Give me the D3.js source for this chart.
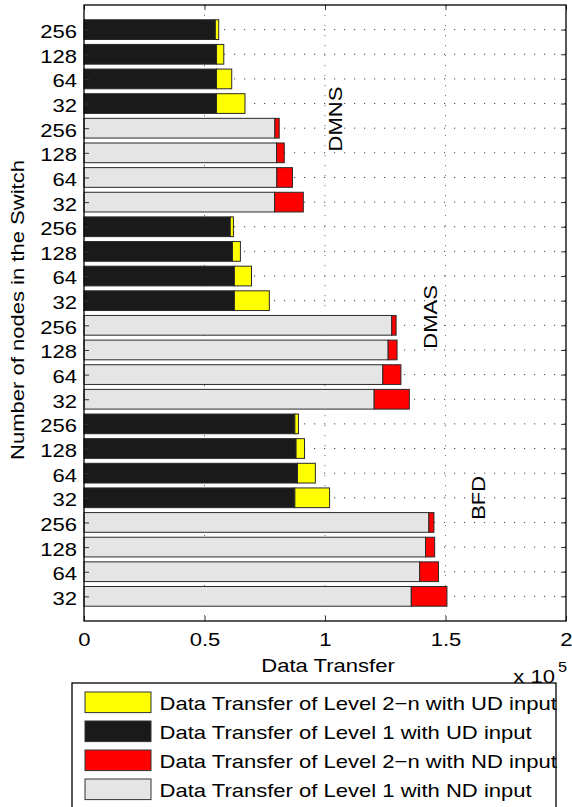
<!DOCTYPE html>
<html>
<head>
    <meta charset="utf-8" />
    <script src="https://d3js.org/d3.v7.min.js"></script>
    <style>
        body { margin: 0; background: #fff; }
        svg { display: block; font-family: "Liberation Sans", Arial, sans-serif; }
    </style>
</head>
<body>
    <div id="chart"></div>
    <script>
        // data (bars listed top to bottom, 256/128/64/32 nodes in each block)
        const nodeLabels = ["256", "128", "64", "32"];
        const methods = ["DMNS", "DMAS", "BFD"];

        const dmnsUdL1 = [54500, 55000, 55000, 55000];
        const dmnsUdL2 = [1400, 3000, 6300, 11800];
        const dmnsNdL1 = [79200, 79900, 80000, 79100];
        const dmnsNdL2 = [1800, 3200, 6500, 11900];

        const dmasUdL1 = [60700, 61600, 62400, 62400];
        const dmasUdL2 = [1300, 3300, 7100, 14500];
        const dmasNdL1 = [127700, 126200, 124000, 120400];
        const dmasNdL2 = [1800, 3700, 7500, 14600];

        const bfdUdL1 = [87500, 88000, 88600, 87500];
        const bfdUdL2 = [1500, 3500, 7400, 14400];
        const bfdNdL1 = [143100, 141700, 139300, 135800];
        const bfdNdL2 = [2100, 3800, 7800, 14800];

        const xTicks = [0, 50000, 100000, 150000, 200000];

        // method annotation positions (data units)
        const methodLabelX = [107000, 146500, 166400];
        const methodLabelY = [4.63, 12.66, 20.0];

        const legendLabels = [
            "Data Transfer of Level 2\u2212n with UD input",
            "Data Transfer of Level 1 with UD input",
            "Data Transfer of Level 2\u2212n with ND input",
            "Data Transfer of Level 1 with ND input"
        ];

        const colUdL1 = "#1a1a1a", colUdL2 = "#ffff00";
        const colNdL1 = "#e5e5e5", colNdL2 = "#ff0000";
        const legendColors = [colUdL2, colUdL1, colNdL2, colNdL1];

        // build rows
        const blocks = [
            [dmnsUdL1, dmnsUdL2, colUdL1, colUdL2],
            [dmnsNdL1, dmnsNdL2, colNdL1, colNdL2],
            [dmasUdL1, dmasUdL2, colUdL1, colUdL2],
            [dmasNdL1, dmasNdL2, colNdL1, colNdL2],
            [bfdUdL1, bfdUdL2, colUdL1, colUdL2],
            [bfdNdL1, bfdNdL2, colNdL1, colNdL2]
        ];
        const rows = [];
        blocks.forEach(b => {
            nodeLabels.forEach((lab, i) => {
                rows.push({ pos: rows.length + 1, label: lab, l1: b[0][i], l2: b[1][i], c1: b[2], c2: b[3] });
            });
        });

        const W = 572, H = 807;
        const pLeft = 84, pRight = 566, pTop = 5, pBottom = 621;
        const fs = 19, sx = 1.16;

        const svg = d3.select("#chart").append("svg")
            .attr("width", W).attr("height", H);

        const x = d3.scaleLinear().domain([0, 200000]).range([pLeft, pRight]);
        const y = d3.scaleLinear().domain([0, 25]).range([pTop, pBottom]);
        const barH = y(0.8) - y(0);

        // grid
        const grid = svg.append("g");
        grid.selectAll(".hg").data(rows).enter().append("line")
            .attr("x1", pLeft).attr("x2", pRight)
            .attr("y1", d => y(d.pos)).attr("y2", d => y(d.pos))
            .attr("stroke", "#444").attr("stroke-width", 1)
            .attr("stroke-dasharray", "1.2,8.8");
        grid.selectAll(".vg").data(xTicks.slice(1, -1)).enter().append("line")
            .attr("x1", d => x(d)).attr("x2", d => x(d))
            .attr("y1", pTop).attr("y2", pBottom)
            .attr("stroke", "#777").attr("stroke-width", 1)
            .attr("stroke-dasharray", "1.2,8.8");

        // bars
        const bars = svg.append("g");
        bars.selectAll(".b1").data(rows).enter().append("rect")
            .attr("x", x(0))
            .attr("y", d => y(d.pos) - barH / 2)
            .attr("width", d => x(d.l1) - x(0))
            .attr("height", barH)
            .attr("fill", d => d.c1)
            .attr("stroke", "#2a2a2a").attr("stroke-width", 1);
        bars.selectAll(".b2").data(rows).enter().append("rect")
            .attr("x", d => x(d.l1))
            .attr("y", d => y(d.pos) - barH / 2)
            .attr("width", d => x(d.l1 + d.l2) - x(d.l1))
            .attr("height", barH)
            .attr("fill", d => d.c2)
            .attr("stroke", "#2a2a2a").attr("stroke-width", 1);

        // axes (inward ticks)
        const xAxisB = svg.append("g")
            .attr("transform", `translate(0, ${pBottom})`)
            .call(d3.axisBottom(x).tickValues(xTicks).tickSize(-5).tickFormat(d => d / 100000));
        const xAxisT = svg.append("g")
            .attr("transform", `translate(0, ${pTop})`)
            .call(d3.axisTop(x).tickValues(xTicks).tickSize(-5).tickFormat(""));
        const yAxisL = svg.append("g")
            .attr("transform", `translate(${pLeft}, 0)`)
            .call(d3.axisLeft(y).tickValues(rows.map(d => d.pos)).tickSize(-5)
                .tickFormat(p => rows[p - 1].label));
        const yAxisR = svg.append("g")
            .attr("transform", `translate(${pRight}, 0)`)
            .call(d3.axisRight(y).tickValues(rows.map(d => d.pos)).tickSize(-5).tickFormat(""));

        [xAxisB, xAxisT, yAxisL, yAxisR].forEach(a => {
            a.select(".domain").remove();
            a.selectAll(".tick line").attr("stroke", "#333");
        });

        xAxisB.selectAll("text")
            .attr("y", 0).attr("dy", 0)
            .attr("transform", `translate(0, 25) scale(${sx}, 1)`)
            .attr("font-size", fs).attr("fill", "#000")
            .style("font-family", "Liberation Sans, Arial, sans-serif");
        yAxisL.selectAll("text")
            .attr("x", 0).attr("dy", 0)
            .attr("dominant-baseline", "central")
            .attr("transform", `translate(-7, 1) scale(${sx}, 1)`)
            .attr("font-size", fs).attr("fill", "#000")
            .style("font-family", "Liberation Sans, Arial, sans-serif");

        // frame
        svg.append("rect")
            .attr("x", pLeft).attr("y", pTop)
            .attr("width", pRight - pLeft).attr("height", pBottom - pTop)
            .attr("fill", "none").attr("stroke", "#000").attr("stroke-width", 1.3);

        // helper for stretched text
        function label(px, py, rot, txt, size, anchor) {
            return svg.append("text")
                .attr("transform", `translate(${px}, ${py}) rotate(${rot}) scale(${sx}, 1)`)
                .attr("text-anchor", anchor || "middle")
                .attr("font-size", size || fs)
                .text(txt);
        }

        // method annotations
        methods.forEach((m, i) => {
            label(x(methodLabelX[i]), y(methodLabelY[i]), -90, m);
        });

        // axis labels
        label(328, 672, 0, "Data Transfer");
        label(24, 310, -90, "Number of nodes in the Switch");
        label(555, 683, 0, "x 10", fs, "end");
        label(558, 672, 0, "5", 14, "start");

        // legend
        const lg = svg.append("g");
        legendLabels.forEach((t, i) => {
            lg.append("rect")
                .attr("x", 85).attr("y", 692 + i * 29)
                .attr("width", 66).attr("height", 20.6)
                .attr("fill", legendColors[i])
                .attr("stroke", "#333").attr("stroke-width", 1);
            lg.append("text")
                .attr("transform", `translate(159.5, ${710 + i * 29}) scale(${sx}, 1)`)
                .attr("font-size", fs)
                .text(t);
        });
        lg.append("rect")
            .attr("x", 72).attr("y", 683)
            .attr("width", 484).attr("height", 140)
            .attr("fill", "none").attr("stroke", "#000").attr("stroke-width", 1.3);
    </script>
</body>
</html>
